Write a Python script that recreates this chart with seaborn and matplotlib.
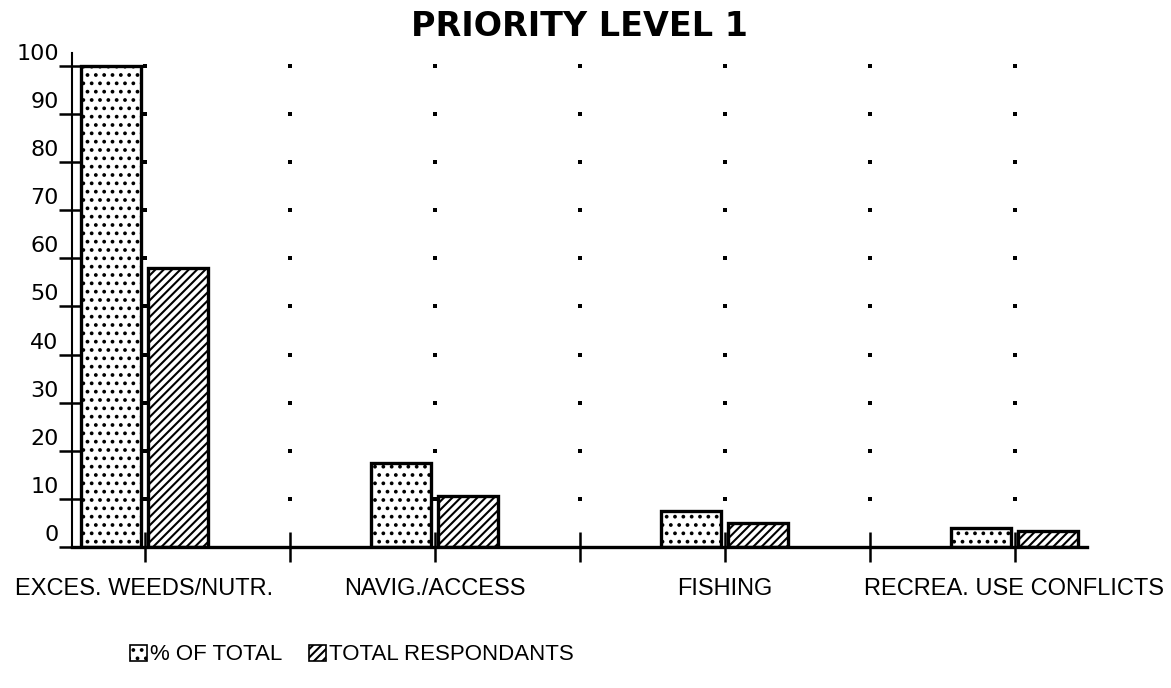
import numpy as np
import pandas as pd
import matplotlib
matplotlib.use("Agg")
import matplotlib.pyplot as plt
import seaborn as sns
from matplotlib.patches import Patch
from matplotlib.transforms import ScaledTranslation

# Survey results: issues named as first priority
title = "PRIORITY LEVEL 1"
categories = ["EXCES. WEEDS/NUTR.", "NAVIG./ACCESS", "FISHING", "RECREA. USE CONFLICTS"]
series_names = ["% OF TOTAL", "TOTAL RESPONDANTS"]
pct_of_total = [100, 17.5, 7.5, 4.0]
total_respondants = [58, 10.5, 5.0, 3.3]
y_ticks = [0, 10, 20, 30, 40, 50, 60, 70, 80, 90, 100]
y_tick_labels = ["0", "10", "20", "30", "40", "50", "60", "70", "80", "90", "100"]
hatches = ["..", "////"]

sns.set_theme(style="white")
plt.rcParams["font.family"] = ["Liberation Sans", "DejaVu Sans"]
plt.rcParams["hatch.linewidth"] = 1.5
plt.rcParams["text.color"] = "black"
plt.rcParams["axes.labelcolor"] = "black"

df = pd.DataFrame({
    "category": categories * 2,
    "series": [s for s in series_names for _ in categories],
    "value": pct_of_total + total_respondants,
})

W, H = 1171, 688
fig = plt.figure(figsize=(W / 100, H / 100), dpi=100)
ax = fig.add_axes([72 / W, 1 - 547 / H, (1087 - 72) / W, (547 - 53) / H])

sns.barplot(data=df, x="category", y="value", hue="series", order=categories,
            hue_order=series_names, palette=["white", "white"], saturation=1,
            width=0.46, gap=0.1, edgecolor="black", linewidth=2.4,
            errorbar=None, legend=False, ax=ax)

for container, hatch in zip(ax.containers, hatches):
    for bar in container:
        bar.set_hatch(hatch)
        bar.set_zorder(2)

ax.set_xlim(-0.25, 3.25)
ax.set_ylim(0, 102.7)
ax.set_xlabel("")
ax.set_ylabel("")

# dotted grid: one dot per 10 units at every half-category step
gx, gy = np.meshgrid(np.arange(0, 3.01, 0.5), y_ticks[1:])
ax.scatter(gx.ravel(), gy.ravel(), s=5, color="black", linewidths=0, marker="s", zorder=1)

# axes styling
sns.despine(ax=ax)
ax.spines["left"].set_linewidth(1.5)
ax.spines["bottom"].set_linewidth(2.4)
ax.spines["left"].set_color("black")
ax.spines["bottom"].set_color("black")

ax.set_yticks(y_ticks)
ax.set_yticklabels(y_tick_labels, family="DejaVu Sans")
ax.tick_params(axis="y", direction="inout", length=19, width=1.8, pad=0,
               labelsize=16, color="black", labelcolor="black", left=True)
offset = ScaledTranslation(0, 0.14, fig.dpi_scale_trans)
for lab in ax.get_yticklabels():
    lab.set_transform(lab.get_transform() + offset)

ax.set_xticks(range(len(categories)))
ax.set_xticklabels(categories)
ax.set_xticks([0.5, 1.5, 2.5], minor=True)
ax.tick_params(axis="x", which="both", direction="inout", length=21, width=1.8,
               pad=12, labelsize=17, color="black", labelcolor="black", bottom=True)

ax.set_title(title, fontsize=24, fontweight="bold", family="DejaVu Sans", pad=12,
             color="black")

handles = [Patch(facecolor="white", edgecolor="black", hatch=h, linewidth=1.2) for h in hatches]
fig.legend(handles, series_names, loc="center left", bbox_to_anchor=(130 / W, 1 - 655 / H),
           ncol=2, frameon=False, fontsize=16, handlelength=0.75, handleheight=0.75,
           handletextpad=0.15, columnspacing=1.2, borderpad=0, borderaxespad=0,
           labelcolor="black")

fig.savefig("out.png", dpi=100)
